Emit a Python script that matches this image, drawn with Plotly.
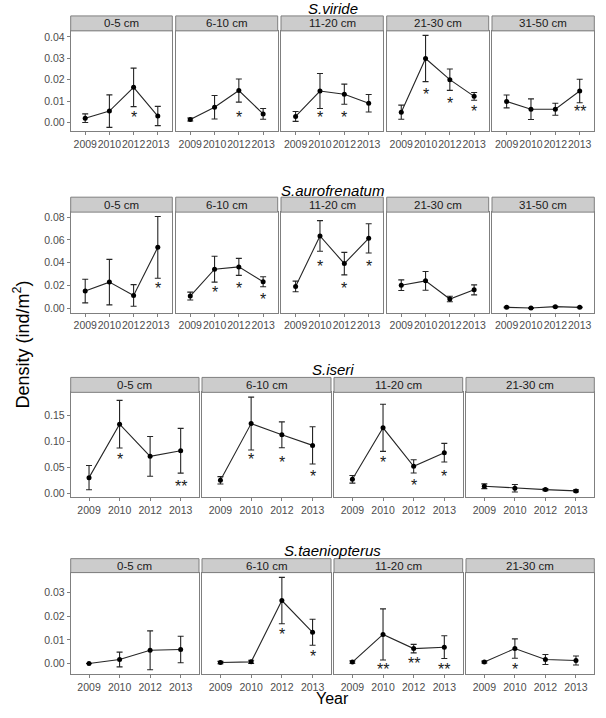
import plotly.graph_objects as go

W, H = 606, 718

years = ["2009", "2010", "2012", "2013"]
species = ["S.viride", "S.aurofrenatum", "S.iseri", "S.taeniopterus"]

# ---- S.viride ----
viride_depths = ["0-5 cm", "6-10 cm", "11-20 cm", "21-30 cm", "31-50 cm"]
viride_mean = [
    [0.0020, 0.0053, 0.0164, 0.0030],
    [0.0014, 0.0071, 0.0149, 0.0040],
    [0.0028, 0.0147, 0.0132, 0.0090],
    [0.0048, 0.0299, 0.0200, 0.0122],
    [0.0098, 0.0062, 0.0062, 0.0147],
]
viride_se = [
    [0.0020, 0.0076, 0.0090, 0.0045],
    [0.0007, 0.0055, 0.0054, 0.0025],
    [0.0023, 0.0082, 0.0047, 0.0041],
    [0.0033, 0.0108, 0.0050, 0.0018],
    [0.0030, 0.0048, 0.0028, 0.0055],
]
viride_sig = [
    ["", "", "*", ""],
    ["", "", "*", ""],
    ["", "*", "*", ""],
    ["", "*", "*", "*"],
    ["", "", "", "**"],
]
viride_sig_y = [
    [None, None, 0.0040, None],
    [None, None, 0.0040, None],
    [None, 0.0043, 0.0040, None],
    [None, 0.0149, 0.0109, 0.0068],
    [None, None, None, 0.0068],
]

# ---- S.aurofrenatum ----
auro_depths = ["0-5 cm", "6-10 cm", "11-20 cm", "21-30 cm", "31-50 cm"]
auro_mean = [
    [0.0149, 0.0228, 0.0111, 0.0534],
    [0.0105, 0.0342, 0.0362, 0.0231],
    [0.0190, 0.0634, 0.0391, 0.0613],
    [0.0201, 0.0239, 0.0079, 0.0160],
    [0.0006, 0.0000, 0.0012, 0.0006],
]
auro_se = [
    [0.0104, 0.0200, 0.0095, 0.0272],
    [0.0035, 0.0114, 0.0075, 0.0044],
    [0.0047, 0.0135, 0.0099, 0.0129],
    [0.0047, 0.0082, 0.0024, 0.0044],
    [0.0003, 0.0003, 0.0003, 0.0003],
]
auro_sig = [
    ["", "", "", "*"],
    ["", "*", "*", "*"],
    ["", "*", "*", "*"],
    ["", "", "", ""],
    ["", "", "", ""],
]
auro_sig_y = [
    [None, None, None, 0.0204],
    [None, 0.0169, 0.0204, 0.0108],
    [None, 0.0400, 0.0204, 0.0400],
    [None, None, None, None],
    [None, None, None, None],
]

# ---- S.iseri ----
iseri_depths = ["0-5 cm", "6-10 cm", "11-20 cm", "21-30 cm"]
iseri_mean = [
    [0.0300, 0.1328, 0.0709, 0.0817],
    [0.0249, 0.1340, 0.1124, 0.0920],
    [0.0268, 0.1258, 0.0517, 0.0779],
    [0.0134, 0.0096, 0.0070, 0.0045],
]
iseri_se = [
    [0.0233, 0.0457, 0.0383, 0.0431],
    [0.0071, 0.0508, 0.0249, 0.0358],
    [0.0073, 0.0453, 0.0128, 0.0179],
    [0.0045, 0.0073, 0.0019, 0.0019],
]
iseri_sig = [
    ["", "*", "", "**"],
    ["", "*", "*", "*"],
    ["", "*", "*", "*"],
    ["", "", "", ""],
]
iseri_sig_y = [
    [None, 0.0722, None, 0.0211],
    [None, 0.0722, 0.0677, 0.0403],
    [None, 0.0677, 0.0224, 0.0403],
    [None, None, None, None],
]

# ---- S.taeniopterus ----
taen_depths = ["0-5 cm", "6-10 cm", "11-20 cm", "21-30 cm"]
taen_mean = [
    [0.0000, 0.0017, 0.0056, 0.0059],
    [0.0004, 0.0007, 0.0266, 0.0132],
    [0.0006, 0.0123, 0.0063, 0.0069],
    [0.0006, 0.0063, 0.0017, 0.0013],
]
taen_se = [
    [0.0000, 0.0031, 0.0082, 0.0056],
    [0.0005, 0.0007, 0.0098, 0.0055],
    [0.0005, 0.0108, 0.0018, 0.0048],
    [0.0004, 0.0041, 0.0021, 0.0019],
]
taen_sig = [
    ["", "", "", ""],
    ["", "", "*", "*"],
    ["", "**", "**", "**"],
    ["", "*", "", ""],
]
taen_sig_y = [
    [None, None, None, None],
    [None, None, 0.0139, 0.0046],
    [None, -0.0008, 0.0015, -0.0008],
    [None, -0.0008, None, None],
]

# y tick values per row
viride_ticks = [0.00, 0.01, 0.02, 0.03, 0.04]
auro_ticks = [0.00, 0.02, 0.04, 0.06, 0.08]
iseri_ticks = [0.00, 0.05, 0.10, 0.15]
taen_ticks = [0.00, 0.01, 0.02, 0.03]

rows = [
    dict(depths=viride_depths, mean=viride_mean, se=viride_se, sig=viride_sig, sigy=viride_sig_y,
         ticks=viride_ticks, yr=[-0.0042, 0.0428]),
    dict(depths=auro_depths, mean=auro_mean, se=auro_se, sig=auro_sig, sigy=auro_sig_y,
         ticks=auro_ticks, yr=[-0.0041, 0.0844]),
    dict(depths=iseri_depths, mean=iseri_mean, se=iseri_se, sig=iseri_sig, sigy=iseri_sig_y,
         ticks=iseri_ticks, yr=[-0.0071, 0.194]),
    dict(depths=taen_depths, mean=taen_mean, se=taen_se, sig=taen_sig, sigy=taen_sig_y,
         ticks=taen_ticks, yr=[-0.0045, 0.0384]),
]

# ---- layout geometry (pixels) ----
x5 = [(70.7, 172.3), (175.7, 277.7), (281.0, 383.3), (386.7, 488.7), (492.0, 594.3)]
x4 = [(70.7, 199.0), (202.0, 331.0), (334.0, 462.7), (466.0, 594.3)]
row_geom = [
    dict(xs=x5, top=30, bot=131, strip=15, title=8),
    dict(xs=x5, top=212, bot=313, strip=197, title=190),
    dict(xs=x4, top=393, bot=498, strip=378, title=370),
    dict(xs=x4, top=574, bot=676, strip=560, title=552),
]

def px(x):
    return x / W

def py(y):
    return 1 - y / H

FONT = "Liberation Sans, Arial, sans-serif"
BORDER = "#7F7F7F"
STRIP = "#CCCCCC"
TICKCOL = "#4D4D4D"

fig = go.Figure()
layout = dict(
    width=W, height=H, margin=dict(l=0, r=0, t=0, b=0),
    paper_bgcolor="white", plot_bgcolor="white", showlegend=False,
    font=dict(family=FONT, color="#1A1A1A"),
)
shapes = []
annotations = []

k = 0
xidx = list(range(len(years)))
for r, (rd, g) in enumerate(zip(rows, row_geom)):
    for c, depth in enumerate(rd["depths"]):
        k += 1
        xa = "xaxis" if k == 1 else f"xaxis{k}"
        ya = "yaxis" if k == 1 else f"yaxis{k}"
        xr = "x" if k == 1 else f"x{k}"
        yr = "y" if k == 1 else f"y{k}"
        x0, x1 = g["xs"][c]
        layout[xa] = dict(
            domain=[px(x0), px(x1)], anchor=yr, range=[-0.6, 3.6],
            tickvals=xidx, ticktext=years, showgrid=False, zeroline=False,
            showline=True, mirror=True, linecolor=BORDER, linewidth=1,
            ticks="outside", ticklen=3, tickcolor=BORDER, tickangle=0,
            tickfont=dict(size=10.5, color=TICKCOL, family=FONT),
        )
        first = c == 0
        layout[ya] = dict(
            domain=[py(g["bot"]), py(g["top"])], anchor=xr, range=rd["yr"],
            tickvals=rd["ticks"], tickformat=".2f", showgrid=False, zeroline=False,
            showline=True, mirror=True, linecolor=BORDER, linewidth=1,
            ticks="outside" if first else "", ticklen=3, tickcolor=BORDER,
            showticklabels=first,
            tickfont=dict(size=10.5, color=TICKCOL, family=FONT),
        )
        fig.add_trace(go.Scatter(
            x=xidx, y=rd["mean"][c], xaxis=xr, yaxis=yr,
            mode="lines+markers",
            line=dict(color="#262626", width=1.1),
            marker=dict(color="black", size=5),
            error_y=dict(type="data", array=rd["se"][c], visible=True,
                         color="#262626", thickness=1.1, width=3),
            hoverinfo="skip",
        ))
        # significance stars
        for i, (lab, yv) in enumerate(zip(rd["sig"][c], rd["sigy"][c])):
            if lab and yv is not None:
                annotations.append(dict(
                    x=xidx[i], y=yv, xref=xr, yref=yr, text=lab, showarrow=False,
                    xanchor="center", yanchor="middle", yshift=-4,
                    font=dict(size=16, color="#1A1A1A", family=FONT),
                ))
        # strip
        shapes.append(dict(
            type="rect", xref="paper", yref="paper",
            x0=px(x0), x1=px(x1), y0=py(g["top"]), y1=py(g["strip"]),
            fillcolor=STRIP, line=dict(color=BORDER, width=1), layer="above",
        ))
        annotations.append(dict(
            x=px((x0 + x1) / 2), y=py((g["strip"] + g["top"]) / 2),
            xref="paper", yref="paper", text=depth, showarrow=False,
            xanchor="center", yanchor="middle",
            font=dict(size=11.5, color="#1A1A1A", family=FONT),
        ))
    # species title
    annotations.append(dict(
        x=px(332.5), y=py(g["title"]), xref="paper", yref="paper",
        text=f"<i>{species[r]}</i>", showarrow=False,
        xanchor="center", yanchor="middle",
        font=dict(size=15, color="black", family=FONT),
    ))

annotations.append(dict(
    x=px(332.5), y=py(700), xref="paper", yref="paper", text="Year",
    showarrow=False, xanchor="center", yanchor="middle",
    font=dict(size=16, color="black", family=FONT),
))
annotations.append(dict(
    x=px(22), y=py(345), xref="paper", yref="paper",
    text="Density (ind/m<sup>2</sup>)", textangle=-90,
    showarrow=False, xanchor="center", yanchor="middle",
    font=dict(size=18, color="black", family=FONT),
))

layout["shapes"] = shapes
layout["annotations"] = annotations
fig.update_layout(**layout)
fig.write_html("out.html")
